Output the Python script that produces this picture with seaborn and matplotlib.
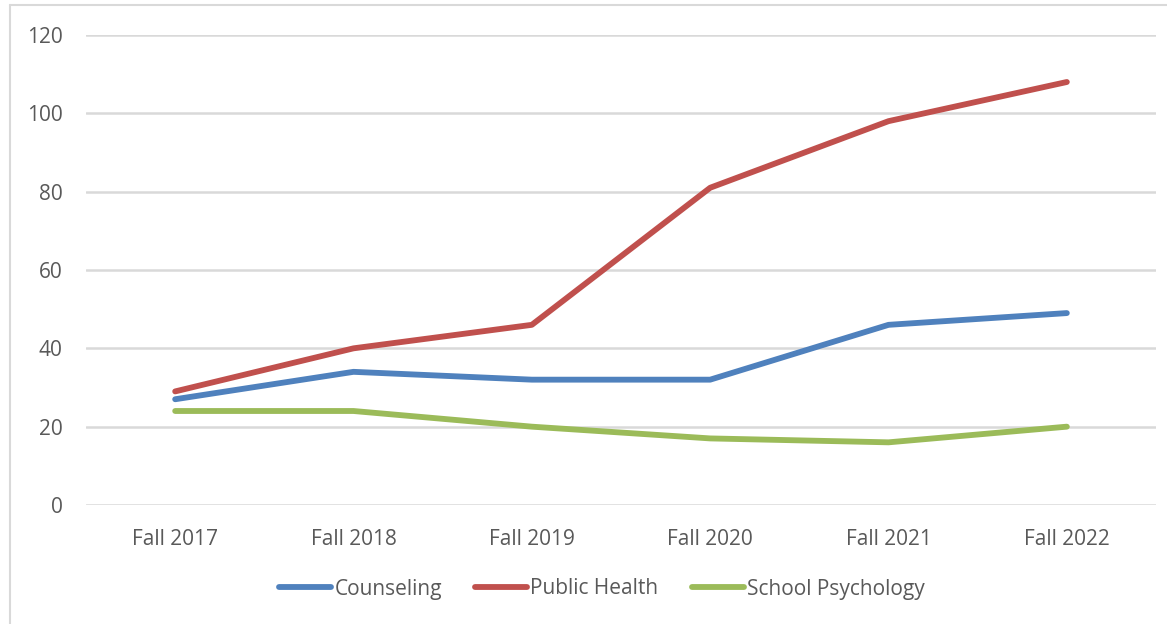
import pandas as pd
import matplotlib.pyplot as plt
import seaborn as sns
from matplotlib.lines import Line2D

# --- Data ---
terms = ["Fall 2017", "Fall 2018", "Fall 2019", "Fall 2020", "Fall 2021", "Fall 2022"]
counseling = [27, 34, 32, 32, 46, 49]
public_health = [29, 40, 46, 81, 98, 108]
school_psych = [24, 24, 20, 17, 16, 20]

programs = ["Counseling", "Public Health", "School Psychology"]
colors = ["#4F81BD", "#C0504D", "#9BBB59"]

df = pd.DataFrame({
    "term": terms * 3,
    "program": [p for p in programs for _ in terms],
    "count": counseling + public_health + school_psych,
})

sns.set_theme(style="white")
plt.rcParams["font.family"] = ["Open Sans", "DejaVu Sans"]
text_color = "#595959"

fig = plt.figure(figsize=(11.67, 6.24), dpi=100)
ax = fig.add_axes([86 / 1167, 1 - 505 / 624, (1156 - 86) / 1167, (505 - 35) / 624])

sns.lineplot(data=df, x="term", y="count", hue="program", hue_order=programs,
             palette=colors, linewidth=4.2, sort=False, ax=ax, legend=False,
             solid_capstyle="round")

ax.set_xlim(-0.5, len(terms) - 0.5)
ax.set_ylim(0, 120)
ax.set_yticks(range(0, 121, 20))
ax.yaxis.grid(True, color="#d9d9d9", linewidth=1.8)
ax.set_axisbelow(True)
for s in ax.spines.values():
    s.set_visible(False)
ax.set_xlabel("")
ax.set_ylabel("")
ax.tick_params(axis="both", labelsize=15, colors=text_color, length=0)
ax.tick_params(axis="x", pad=17)
ax.tick_params(axis="y", pad=17)

# legend below the plot
handles = [Line2D([0], [0], color=c, linewidth=4.2, solid_capstyle="round") for c in colors]
fig.legend(handles, programs, loc="center", bbox_to_anchor=(602 / 1167, 1 - 589 / 624),
           ncol=3, frameon=False, fontsize=15, labelcolor=text_color,
           handlelength=2.5, handletextpad=0.15, columnspacing=1.6)

# chart border (top and left edges visible in the original)
fig.add_artist(Line2D([10 / 1167, 10 / 1167], [0, 1 - 5 / 624], color="#d9d9d9",
                      linewidth=1.5, transform=fig.transFigure))
fig.add_artist(Line2D([10 / 1167, 1], [1 - 5 / 624, 1 - 5 / 624], color="#d9d9d9",
                      linewidth=1.5, transform=fig.transFigure))

fig.savefig("out.png", dpi=100)
